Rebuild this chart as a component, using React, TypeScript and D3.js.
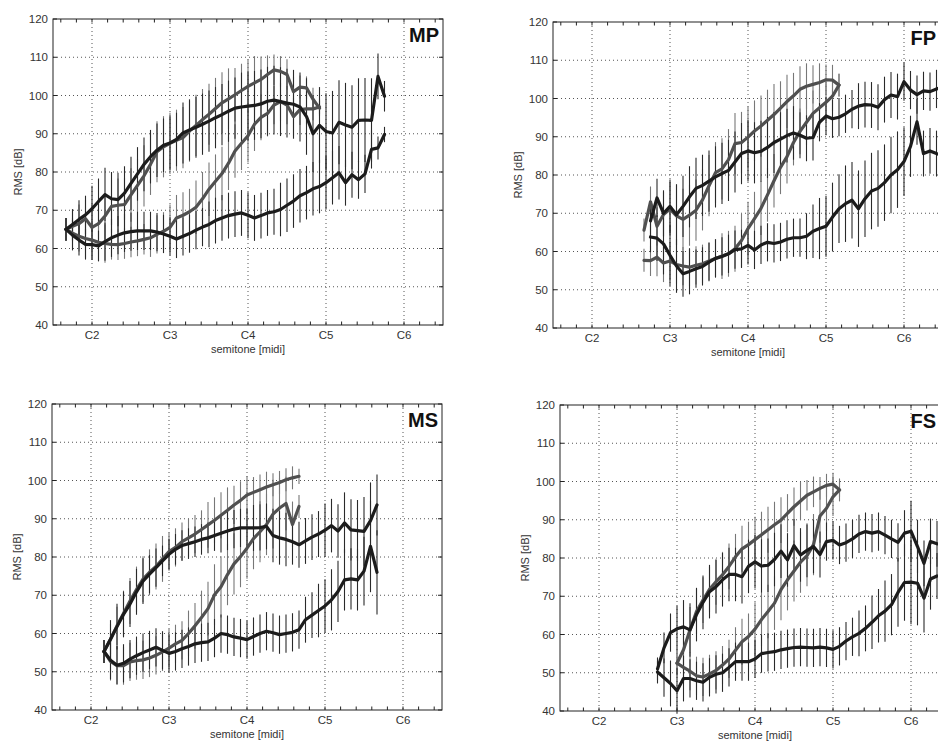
import React, { useEffect, useRef } from 'react';
import * as d3 from 'd3';

// each point: [midi semitone, RMS dB, error half-width]
type Pt = [number, number, number];

const noteTicks = [36, 48, 60, 72, 84];
const noteLabels = ['C2', 'C3', 'C4', 'C5', 'C6'];
const dbTicks = [40, 50, 60, 70, 80, 90, 100, 110, 120];

// ---- MP ----
const mpBlackUp: Pt[] = [
  [32, 65, 3], [33, 66.3, 4], [34, 67.6, 5], [35, 68.8, 5], [36, 70.4, 6], [37, 72.3, 6], [38, 74.1, 7], [39, 73, 7],
  [40, 72.8, 7], [41, 74.5, 7], [42, 77, 7], [43, 79.5, 7], [44, 82, 7], [45, 84, 7], [46, 85.7, 7], [47, 87, 7],
  [48, 87.6, 7], [49, 88.5, 7], [50, 90.2, 8], [51, 91, 8], [52, 91.7, 8], [53, 92.5, 8], [54, 93.3, 8], [55, 94.2, 8],
  [56, 95, 8], [57, 95.9, 8], [58, 96.7, 8], [59, 97, 9], [60, 97.2, 9], [61, 97.4, 9], [62, 97.8, 9], [63, 98.5, 9],
  [64, 98.8, 9], [65, 98.4, 9], [66, 98, 9], [67, 97.7, 9], [68, 97, 9], [69, 94.5, 10], [70, 90, 10], [71, 92.2, 10],
  [72, 90.6, 10], [73, 90.2, 11], [74, 93, 11], [75, 92.3, 11], [76, 91.7, 11], [77, 93.5, 11], [78, 93.6, 11],
  [79, 93.5, 11], [80, 105, 6], [81, 99.8, 4],
];
const mpBlackLow: Pt[] = [
  [32, 65, 3], [33, 63.5, 4], [34, 62.2, 4], [35, 61.1, 4], [36, 61, 4], [37, 60.7, 4], [38, 61.8, 5], [39, 62.8, 5],
  [40, 63.5, 5], [41, 64.1, 5], [42, 64.4, 5], [43, 64.6, 5], [44, 64.6, 5], [45, 64.6, 5], [46, 64.3, 5], [47, 63.8, 5],
  [48, 63.2, 5], [49, 62.5, 5], [50, 63.2, 5], [51, 63.9, 5], [52, 64.8, 5], [53, 65.6, 5], [54, 66.3, 6], [55, 67.3, 6],
  [56, 68, 6], [57, 68.6, 6], [58, 69, 6], [59, 69.3, 6], [60, 68.7, 6], [61, 68, 6], [62, 68.6, 6], [63, 69.3, 6],
  [64, 69.6, 6], [65, 70.2, 7], [66, 71.3, 7], [67, 72.4, 7], [68, 73.8, 7], [69, 74.6, 7], [70, 75.6, 7], [71, 76.2, 7],
  [72, 77.2, 7], [73, 78.5, 7], [74, 79.8, 7], [75, 77.2, 6], [76, 79.3, 6], [77, 78, 5], [78, 79.5, 5], [79, 85.9, 5],
  [80, 86.3, 3], [81, 89.8, 2],
];
const mpGrayUp: Pt[] = [
  [32, 65, 3], [33, 65.8, 4], [34, 66.5, 5], [35, 67.8, 5], [36, 65.5, 6], [37, 66.5, 6], [38, 68.5, 6], [39, 71, 7],
  [40, 71.3, 7], [41, 71.5, 7], [42, 74, 7], [43, 76.5, 7], [44, 79, 8], [45, 82, 8], [46, 85.3, 8], [47, 86.6, 8],
  [48, 87.5, 8], [49, 88.3, 8], [50, 89, 8], [51, 90.7, 8], [52, 92.2, 8], [53, 93.7, 8], [54, 95.1, 8], [55, 96.6, 8],
  [56, 98.1, 8], [57, 99.1, 8], [58, 100.2, 7], [59, 101.3, 7], [60, 102.4, 7], [61, 103.3, 7], [62, 104.2, 6],
  [63, 105.5, 5], [64, 106.7, 4], [65, 106.3, 4], [66, 105.5, 4], [67, 101, 4], [68, 102.2, 3], [69, 102, 3],
  [70, 99, 3], [71, 96.7, 2],
];
const mpGrayLow: Pt[] = [
  [32, 65, 3], [33, 64, 4], [34, 63.2, 4], [35, 62.6, 5], [36, 62.2, 5], [37, 61.6, 5], [38, 61.3, 5], [39, 61.1, 4],
  [40, 61, 4], [41, 61.3, 4], [42, 61.7, 4], [43, 62, 4], [44, 62.4, 4], [45, 62.8, 5], [46, 63.7, 5], [47, 64.5, 5],
  [48, 65.5, 6], [49, 68, 6], [50, 68.7, 6], [51, 69.6, 6], [52, 70.8, 7], [53, 73, 7], [54, 75.5, 7], [55, 77.6, 7],
  [56, 79.6, 7], [57, 82.3, 7], [58, 85.5, 7], [59, 87.5, 7], [60, 89.5, 7], [61, 92.5, 7], [62, 94.3, 6], [63, 95.3, 6],
  [64, 97.5, 5], [65, 98.4, 5], [66, 97.5, 5], [67, 94.5, 5], [68, 96.3, 4], [69, 96.5, 4], [70, 96.5, 3], [71, 97, 2],
];

// ---- FP ----
const fpBlackUp: Pt[] = [
  [45, 68, 4], [46, 74, 5], [47, 70, 6], [48, 71.8, 7], [49, 69.6, 8], [50, 71.8, 8], [51, 74.3, 8], [52, 76.5, 8],
  [53, 77.3, 8], [54, 78.4, 8], [55, 79.5, 8], [56, 80.4, 8], [57, 81.2, 8], [58, 83.4, 8], [59, 85.6, 8], [60, 86.3, 8],
  [61, 85.8, 8], [62, 86.2, 8], [63, 87.2, 8], [64, 88.5, 8], [65, 89.4, 7], [66, 90.3, 7], [67, 91, 7], [68, 90.4, 6],
  [69, 89.6, 6], [70, 89.8, 6], [71, 93.8, 5], [72, 95.4, 5], [73, 94.7, 5], [74, 95.1, 5], [75, 96, 5], [76, 97.2, 5],
  [77, 98, 6], [78, 98.4, 6], [79, 98.3, 6], [80, 97.7, 6], [81, 99.7, 6], [82, 100.9, 6], [83, 100.5, 6],
  [84, 104.4, 5], [85, 102.2, 5], [86, 101, 5], [87, 102, 5], [88, 101.8, 5], [89, 102.5, 5], [90, 103, 5],
];
const fpBlackLow: Pt[] = [
  [45, 63.8, 4], [46, 63.5, 6], [47, 62, 8], [48, 59, 8], [49, 56.2, 7], [50, 54.2, 6], [51, 54.8, 6], [52, 55.5, 5],
  [53, 56.1, 5], [54, 57.2, 5], [55, 58.2, 5], [56, 58.7, 5], [57, 59.4, 5], [58, 60.5, 5], [59, 60.7, 5], [60, 61.6, 5],
  [61, 60.4, 5], [62, 61.7, 5], [63, 62.4, 5], [64, 62.1, 5], [65, 62.5, 5], [66, 63.2, 5], [67, 63.6, 5], [68, 63.6, 5],
  [69, 64, 6], [70, 65.3, 7], [71, 66, 8], [72, 66.6, 8], [73, 69, 9], [74, 71.2, 9], [75, 72.5, 10], [76, 73.4, 10],
  [77, 71.2, 10], [78, 73.8, 10], [79, 75.8, 10], [80, 76.5, 10], [81, 78, 10], [82, 80, 10], [83, 81.4, 10],
  [84, 83.5, 9], [85, 87.5, 8], [86, 93.9, 6], [87, 85.6, 6], [88, 86.3, 6], [89, 85.6, 6], [90, 85, 6],
];
const fpGrayUp: Pt[] = [
  [44, 65.6, 3], [45, 73, 4], [46, 66.6, 5], [47, 69.7, 6], [48, 71.1, 7], [49, 69.3, 8], [50, 68.4, 8], [51, 69.5, 8],
  [52, 70.8, 8], [53, 73.5, 8], [54, 77.2, 8], [55, 80.6, 8], [56, 81.6, 8], [57, 84, 8], [58, 88.2, 8], [59, 88.5, 8],
  [60, 89.9, 8], [61, 91.5, 8], [62, 92.8, 8], [63, 94.3, 8], [64, 95.8, 8], [65, 97.5, 7], [66, 99.2, 7],
  [67, 100.7, 6], [68, 102.4, 6], [69, 103.2, 6], [70, 103.7, 5], [71, 104.2, 5], [72, 104.9, 4], [73, 104.8, 4],
  [74, 103.5, 3],
];
const fpGrayLow: Pt[] = [
  [44, 57.7, 3], [45, 57.6, 4], [46, 58.5, 5], [47, 57, 5], [48, 57.5, 5], [49, 56.6, 5], [50, 56.2, 5], [51, 55.9, 5],
  [52, 56.4, 5], [53, 56.8, 5], [54, 57.5, 5], [55, 58.2, 5], [56, 58.8, 6], [57, 59.4, 6], [58, 60.7, 6], [59, 62.9, 7],
  [60, 66, 7], [61, 68.6, 7], [62, 71.3, 7], [63, 74.8, 7], [64, 78.5, 7], [65, 82, 7], [66, 84.8, 7], [67, 88.5, 6],
  [68, 91.4, 6], [69, 93.8, 6], [70, 96.1, 6], [71, 97.6, 5], [72, 99, 5], [73, 100.6, 4], [74, 103.5, 3],
];

// ---- MS ----
const msBlackUp: Pt[] = [
  [38, 55.3, 3], [39, 58.5, 5], [40, 61.8, 6], [41, 65, 6], [42, 67.7, 6], [43, 70.9, 6], [44, 73.7, 6], [45, 75.5, 5],
  [46, 77.2, 5], [47, 79, 4], [48, 80.7, 4], [49, 82, 4], [50, 83, 4], [51, 83.5, 4], [52, 84, 4], [53, 84.6, 4],
  [54, 85, 4], [55, 85.6, 4], [56, 86.2, 5], [57, 86.8, 5], [58, 87.3, 5], [59, 87.6, 5], [60, 87.6, 5], [61, 87.6, 6],
  [62, 87.7, 6], [63, 88, 6], [64, 85.6, 7], [65, 85, 7], [66, 84.6, 7], [67, 84, 6], [68, 83.2, 6], [69, 84.2, 6],
  [70, 85.2, 6], [71, 86, 6], [72, 87, 7], [73, 88.2, 7], [74, 86.8, 7], [75, 88.9, 8], [76, 87.1, 8], [77, 86.9, 8],
  [78, 86.7, 9], [79, 89.5, 10], [80, 93.6, 8],
];
const msBlackLow: Pt[] = [
  [38, 55.3, 3], [39, 53, 5], [40, 51.7, 5], [41, 52.2, 5], [42, 53.3, 5], [43, 54.2, 5], [44, 55, 5], [45, 55.7, 5],
  [46, 56.4, 5], [47, 55.6, 5], [48, 54.8, 5], [49, 55.3, 5], [50, 56, 5], [51, 56.6, 5], [52, 57.3, 5], [53, 57.6, 5],
  [54, 57.8, 5], [55, 58.8, 5], [56, 60, 5], [57, 59.7, 5], [58, 59.1, 5], [59, 58.8, 5], [60, 58.4, 5], [61, 59.2, 5],
  [62, 60, 5], [63, 60.6, 5], [64, 60.2, 5], [65, 59.7, 5], [66, 60, 5], [67, 60.3, 5], [68, 61, 5], [69, 63.6, 6],
  [70, 64.8, 6], [71, 66, 7], [72, 67.2, 7], [73, 68.8, 8], [74, 71, 8], [75, 74, 8], [76, 74.3, 8], [77, 74, 8],
  [78, 76.3, 9], [79, 82.8, 12], [80, 76, 11],
];
const msGrayUp: Pt[] = [
  [38, 55.3, 3], [39, 58.5, 4], [40, 62, 5], [41, 65.2, 6], [42, 68.5, 6], [43, 71.5, 6], [44, 74.2, 6], [45, 76, 6],
  [46, 77.5, 6], [47, 79.5, 6], [48, 81.4, 5], [49, 82.5, 5], [50, 84, 5], [51, 85, 5], [52, 86, 5], [53, 87.2, 5],
  [54, 88.4, 6], [55, 89.6, 6], [56, 90.9, 6], [57, 92.2, 6], [58, 93.6, 5], [59, 94.8, 5], [60, 96.2, 5], [61, 96.9, 4],
  [62, 97.6, 4], [63, 98.3, 4], [64, 98.9, 3], [65, 99.5, 3], [66, 100.2, 3], [67, 100.7, 3], [68, 101.1, 2],
];
const msGrayLow: Pt[] = [
  [38, 55.3, 3], [39, 52.7, 5], [40, 51.6, 5], [41, 51.6, 5], [42, 52.6, 5], [43, 52.9, 5], [44, 53.1, 5], [45, 53.6, 5],
  [46, 54.3, 5], [47, 55.2, 5], [48, 56.2, 5], [49, 57.3, 5], [50, 58.2, 5], [51, 60, 6], [52, 62, 6], [53, 64.2, 7],
  [54, 66.5, 7], [55, 70.1, 8], [56, 72.2, 8], [57, 75.4, 8], [58, 78.2, 8], [59, 80.1, 8], [60, 82.3, 8], [61, 84.8, 8],
  [62, 86.6, 8], [63, 88.5, 8], [64, 91.2, 9], [65, 92.8, 8], [66, 94, 7], [67, 88.5, 6], [68, 93.2, 3],
];

// ---- FS ----
const fsBlackUp: Pt[] = [
  [45, 51, 3], [46, 56.5, 4], [47, 60.5, 5], [48, 61.5, 6], [49, 62, 7], [50, 61.2, 7], [51, 65.2, 7], [52, 68.4, 7],
  [53, 71.2, 7], [54, 72.5, 7], [55, 74.3, 7], [56, 75.7, 7], [57, 75.7, 7], [58, 75.1, 7], [59, 77.8, 7], [60, 79, 7],
  [61, 77.9, 7], [62, 78.1, 7], [63, 79.6, 7], [64, 81.8, 7], [65, 79.5, 7], [66, 83.2, 7], [67, 80.8, 7], [68, 82, 7],
  [69, 83, 7], [70, 80.9, 6], [71, 84.3, 5], [72, 84.6, 5], [73, 83.4, 5], [74, 84, 5], [75, 85, 5], [76, 86.3, 5],
  [77, 86.9, 5], [78, 86.5, 5], [79, 86.9, 5], [80, 86, 5], [81, 85, 5], [82, 84.1, 5], [83, 86.5, 6], [84, 87, 8],
  [85, 83, 7], [86, 78.6, 6], [87, 84.3, 6], [88, 83.7, 6],
];
const fsBlackLow: Pt[] = [
  [45, 50.2, 3], [46, 48.7, 5], [47, 47.2, 6], [48, 45.3, 6], [49, 48.5, 6], [50, 48.5, 5], [51, 47.9, 5], [52, 47.5, 5],
  [53, 48.8, 5], [54, 49.6, 5], [55, 50, 5], [56, 51.4, 5], [57, 52.9, 5], [58, 52.9, 5], [59, 52.9, 5], [60, 53.6, 5],
  [61, 55, 5], [62, 55.3, 5], [63, 55.5, 5], [64, 56, 5], [65, 56.3, 5], [66, 56.6, 5], [67, 56.7, 5], [68, 56.6, 5],
  [69, 56.5, 5], [70, 56.7, 5], [71, 56.5, 5], [72, 56.1, 5], [73, 56.9, 5], [74, 58.3, 5], [75, 59.4, 5], [76, 60.3, 6],
  [77, 61.6, 6], [78, 63.2, 7], [79, 64.9, 7], [80, 66.1, 8], [81, 67.8, 8], [82, 71, 9], [83, 73.6, 10], [84, 73.7, 11],
  [85, 73.4, 11], [86, 69.5, 9], [87, 74.5, 8], [88, 75.3, 6],
];
const fsGrayUp: Pt[] = [
  [48, 52.5, 3], [49, 56, 5], [50, 61.2, 6], [51, 66, 6], [52, 69, 6], [53, 71.8, 6], [54, 73.8, 6], [55, 75.6, 6],
  [56, 77.8, 6], [57, 80.3, 6], [58, 82.4, 6], [59, 83.5, 6], [60, 84.8, 6], [61, 86.1, 6], [62, 87.4, 6], [63, 88.7, 6],
  [64, 89.9, 6], [65, 91.7, 5], [66, 93.4, 5], [67, 94.9, 5], [68, 96.4, 4], [69, 97.3, 4], [70, 98.2, 3], [71, 99, 3],
  [72, 99.3, 3], [73, 97.8, 2],
];
const fsGrayLow: Pt[] = [
  [48, 52.5, 3], [49, 51.4, 4], [50, 50.4, 5], [51, 49.2, 5], [52, 48.9, 5], [53, 49.7, 5], [54, 50.6, 5], [55, 52, 5],
  [56, 53.6, 5], [57, 55.9, 6], [58, 58.1, 6], [59, 59.5, 6], [60, 61.4, 7], [61, 63.9, 7], [62, 66, 7], [63, 68.2, 7],
  [64, 71.7, 8], [65, 74.3, 8], [66, 76.6, 8], [67, 78.9, 8], [68, 80.6, 8], [69, 83.5, 8], [70, 91, 7], [71, 93, 6],
  [72, 96, 5], [73, 97.8, 3],
];

const BLACK = '#1c1c1c';
const GRAY = '#505050';

const panels = [
  { name: 'MP', left: 53, top: 19, labelX: 18, gray: [mpGrayUp, mpGrayLow], black: [mpBlackUp, mpBlackLow] },
  { name: 'FP', left: 553, top: 22, labelX: 518, gray: [fpGrayUp, fpGrayLow], black: [fpBlackUp, fpBlackLow] },
  { name: 'MS', left: 52, top: 404, labelX: 17, gray: [msGrayUp, msGrayLow], black: [msBlackUp, msBlackLow] },
  { name: 'FS', left: 560, top: 405, labelX: 525, gray: [fsGrayUp, fsGrayLow], black: [fsBlackUp, fsBlackLow] },
];

const W = 390;
const H = 306;

function App() {
  const svgRef = useRef<SVGSVGElement>(null);

  useEffect(() => {
    const svg = d3.select(svgRef.current);
    svg.selectAll('*').remove();

    panels.forEach((p) => {
      const x = d3.scaleLinear().domain([30, 90]).range([p.left, p.left + W]);
      const y = d3.scaleLinear().domain([40, 120]).range([p.top + H, p.top]);
      const g = svg.append('g');

      // dotted grid
      g.selectAll('line.vg')
        .data(noteTicks)
        .enter()
        .append('line')
        .attr('x1', (d) => x(d)).attr('x2', (d) => x(d))
        .attr('y1', p.top).attr('y2', p.top + H)
        .attr('stroke', '#555').attr('stroke-width', 1).attr('stroke-dasharray', '1,3');
      g.selectAll('line.hg')
        .data(dbTicks.slice(1, -1))
        .enter()
        .append('line')
        .attr('x1', p.left).attr('x2', p.left + W)
        .attr('y1', (d) => y(d)).attr('y2', (d) => y(d))
        .attr('stroke', '#555').attr('stroke-width', 1).attr('stroke-dasharray', '1,3');

      // error bars, then curves
      const drawBars = (series: Pt[], color: string) => {
        g.append('g')
          .selectAll('line')
          .data(series)
          .enter()
          .append('line')
          .attr('x1', (d) => x(d[0])).attr('x2', (d) => x(d[0]))
          .attr('y1', (d) => y(d[1] - d[2])).attr('y2', (d) => y(d[1] + d[2]))
          .attr('stroke', color).attr('stroke-width', 1.1);
      };
      p.gray.forEach((s) => drawBars(s, '#777'));
      p.black.forEach((s) => drawBars(s, '#2a2a2a'));

      const line = d3.line<Pt>().x((d) => x(d[0])).y((d) => y(d[1]));
      const drawLine = (series: Pt[], color: string) => {
        g.append('path')
          .attr('d', line(series))
          .attr('fill', 'none')
          .attr('stroke', color)
          .attr('stroke-width', 3.2)
          .attr('stroke-linejoin', 'round')
          .attr('stroke-linecap', 'round');
      };
      p.gray.forEach((s) => drawLine(s, GRAY));
      p.black.forEach((s) => drawLine(s, BLACK));

      // box
      g.append('rect')
        .attr('x', p.left).attr('y', p.top).attr('width', W).attr('height', H)
        .attr('fill', 'none').attr('stroke', '#222').attr('stroke-width', 1);

      // ticks
      const minor = d3.range(31.2, 89.5, 2.4);
      g.selectAll('line.xt')
        .data(minor)
        .enter()
        .append('line')
        .attr('x1', (d) => x(d)).attr('x2', (d) => x(d))
        .attr('y1', p.top + H).attr('y2', p.top + H - 3.5)
        .attr('stroke', '#222');
      g.selectAll('line.xtt')
        .data(minor)
        .enter()
        .append('line')
        .attr('x1', (d) => x(d)).attr('x2', (d) => x(d))
        .attr('y1', p.top).attr('y2', p.top + 3.5)
        .attr('stroke', '#222');
      g.selectAll('line.yt')
        .data(dbTicks)
        .enter()
        .append('line')
        .attr('x1', p.left).attr('x2', p.left + 4)
        .attr('y1', (d) => y(d)).attr('y2', (d) => y(d))
        .attr('stroke', '#222');
      g.selectAll('line.ytr')
        .data(dbTicks)
        .enter()
        .append('line')
        .attr('x1', p.left + W).attr('x2', p.left + W - 4)
        .attr('y1', (d) => y(d)).attr('y2', (d) => y(d))
        .attr('stroke', '#222');

      const font = 'Arial, "Liberation Sans", sans-serif';
      g.selectAll('text.yl')
        .data(dbTicks)
        .enter()
        .append('text')
        .attr('x', p.left - 5)
        .attr('y', (d) => y(d) + 4)
        .attr('text-anchor', 'end')
        .style('font-family', font).style('font-size', '11.5px').attr('fill', '#333')
        .text((d) => d);
      g.selectAll('text.xl')
        .data(noteTicks)
        .enter()
        .append('text')
        .attr('x', (d) => x(d))
        .attr('y', p.top + H + 14)
        .attr('text-anchor', 'middle')
        .style('font-family', font).style('font-size', '11.5px').attr('fill', '#333')
        .text((d, i) => noteLabels[i]);

      g.append('text')
        .attr('x', p.left + W / 2)
        .attr('y', p.top + H + 28)
        .attr('text-anchor', 'middle')
        .style('font-family', font).style('font-size', '11px').attr('fill', '#333')
        .text('semitone [midi]');
      g.append('text')
        .attr('transform', `translate(${p.labelX},${p.top + H / 2}) rotate(-90)`)
        .attr('text-anchor', 'middle')
        .attr('dy', '0.35em')
        .style('font-family', font).style('font-size', '11px').attr('fill', '#333')
        .text('RMS [dB]');

      // panel title, kept inside the visible page
      g.append('text')
        .attr('x', Math.min(p.left + W - 4, 936))
        .attr('y', p.top + 23)
        .attr('text-anchor', 'end')
        .style('font-family', font).style('font-size', '20px').style('font-weight', 'bold')
        .attr('fill', '#111')
        .text(p.name);
    });
  }, []);

  return (
    <svg
      ref={svgRef}
      width={938}
      height={742}
      style={{ position: 'absolute', left: 0, top: 0, background: '#fff' }}
    />
  );
}

export default App;
